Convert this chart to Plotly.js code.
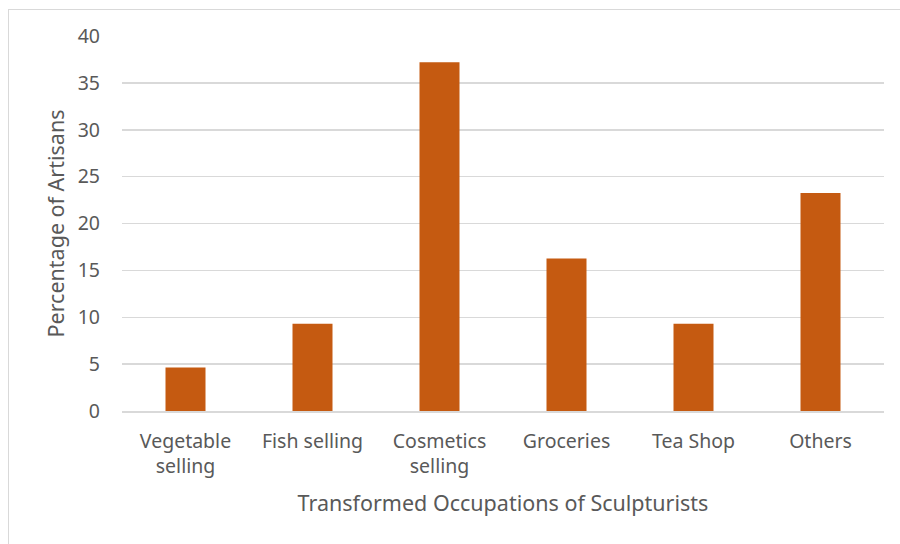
<!DOCTYPE html>
<html>
<head>
<meta charset="utf-8">
<script src="https://cdn.plot.ly/plotly-3.0.1.min.js"></script>
<style>
  html, body { margin: 0; padding: 0; background: #ffffff; overflow: hidden; }
  #frame { position: absolute; left: 8px; top: 9px; width: 1000px; height: 1000px;
           border-left: 1.5px solid #d9d9d9; border-top: 1.5px solid #d9d9d9; pointer-events: none; }
  #chart { position: absolute; left: 0; top: 0; width: 900px; height: 544px; }
</style>
</head>
<body>
<div id="chart"></div>
<div id="frame"></div>
<script>
const categories = ["Vegetable<br>selling", "Fish selling", "Cosmetics<br>selling", "Groceries", "Tea Shop", "Others"];
const percentages = [4.65, 9.3, 37.2, 16.28, 9.3, 23.26];
const yTicks = [0, 5, 10, 15, 20, 25, 30, 35, 40];
const xTitle = "Transformed Occupations of Sculpturists";
const yTitle = "Percentage of Artisans";

const font = "Noto Sans, Open Sans, sans-serif";

Plotly.newPlot("chart", [{
  type: "bar",
  x: categories,
  y: percentages,
  marker: { color: "#c55a11", line: { width: 0 } },
  hoverinfo: "x+y"
}], {
  width: 900, height: 544,
  margin: { l: 122, r: 16, t: 36, b: 133 },
  paper_bgcolor: "#ffffff",
  plot_bgcolor: "#ffffff",
  bargap: 0.685,
  showlegend: false,
  font: { family: font, color: "#595959", size: 19 },
  xaxis: {
    showgrid: false,
    showline: true, linecolor: "#d9d9d9", linewidth: 1.5,
    ticks: "", tickfont: { size: 19.5, color: "#595959" },
    ticklabelstandoff: 12,
    title: { text: xTitle, font: { size: 21.5, color: "#595959" }, standoff: 17 },
    fixedrange: true
  },
  yaxis: {
    range: [0, 40],
    tickvals: yTicks,
    showgrid: true, gridcolor: "#d9d9d9", gridwidth: 1.5,
    zeroline: false,
    showline: false, ticks: "",
    tickfont: { size: 19.5, color: "#595959" },
    ticklabelstandoff: 21,
    title: { text: yTitle, font: { size: 21.5, color: "#595959" }, standoff: 7 },
    fixedrange: true
  }
}, { displayModeBar: false, staticPlot: true });
</script>
</body>
</html>
